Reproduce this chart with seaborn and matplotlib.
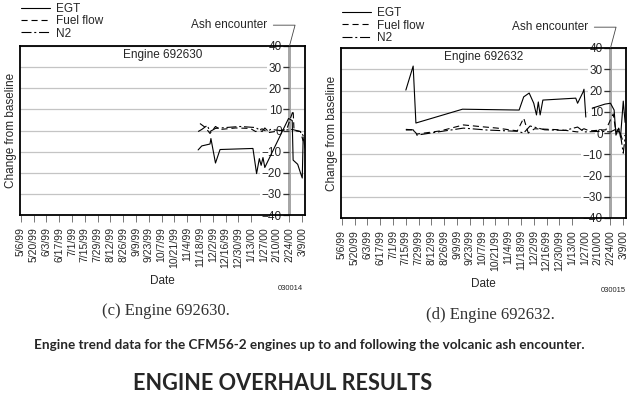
import pandas as pd
import matplotlib
matplotlib.use("Agg")
import matplotlib.pyplot as plt
import seaborn as sns

sns.set_style("white")
plt.rcParams["font.family"] = ["Liberation Sans", "DejaVu Sans"]

FMT = "%m/%d/%y"

tick_labels = ["5/6/99", "5/20/99", "6/3/99", "6/17/99", "7/1/99", "7/15/99", "7/29/99",
               "8/12/99", "8/26/99", "9/9/99", "9/23/99", "10/7/99", "10/21/99", "11/4/99",
               "11/18/99", "12/2/99", "12/16/99", "12/30/99", "1/13/00", "1/27/00",
               "2/10/00", "2/24/00", "3/9/00"]
y_ticks = [-40, -30, -20, -10, 0, 10, 20, 30, 40]
x_range = ["5/5/99", "3/12/00"]
ash_date = "2/24/00"
series_names = ["EGT", "Fuel flow", "N2"]

# Engine 692630
egt_630_dates = ["11/16/99", "11/20/99", "11/29/99", "11/30/99", "12/5/99", "12/10/99", "1/15/00",
                 "1/19/00", "1/22/00", "1/24/00", "1/26/00", "1/28/00", "2/23/00", "2/27/00",
                 "2/28/00", "3/4/00", "3/7/00", "3/9/00", "3/10/00"]
egt_630 = [-9.2, -7.3, -6.4, -3.8, -15.4, -9.0, -8.5, -20.4, -13.3, -16.5, -12.8, -17.5, 5.7, 4.7,
           -14, -16, -20, -22.5, -3]
fuel_630_dates = ["11/18/99", "11/24/99", "11/29/99", "12/5/99", "12/10/99", "12/27/99", "1/12/00",
                  "1/18/00", "1/25/00", "2/1/00", "2/8/00", "2/21/00", "2/28/00", "2/29/00",
                  "3/7/00", "3/10/00"]
fuel_630 = [3.3, 1.4, -1.4, 1.9, 0.5, 1.2, 1.0, -0.5, 0.8, -1.0, -0.5, 0.5, 9.5, 0.0, -0.5, -5]
n2_630_dates = ["11/16/99", "11/20/99", "11/26/99", "11/29/99", "12/5/99", "12/16/99", "1/1/00",
                "1/18/00", "1/25/00", "1/28/00", "2/1/00", "2/3/00", "2/14/00", "2/27/00",
                "3/7/00", "3/10/00", "3/12/00"]
n2_630 = [-0.5, 0.5, 2.4, -0.5, 1.0, 1.4, 1.9, 1.4, -0.5, 1.2, -0.5, 0.5, 0.0, 0.5, -0.5, -2.4, -8.5]

# Engine 692632 (EGT trace has a break around the end of January)
egt_632_dates = ["7/15/99", "7/23/99", "7/26/99", "9/15/99", "11/16/99", "11/21/99", "11/27/99",
                 "12/2/99", "12/5/99", "12/7/99", "12/9/99", "12/12/99", "1/17/00", "1/19/00",
                 "1/25/00", "1/26/00", "1/28/00"]
egt_632 = [20.2, 31.5, 4.7, 11.2, 10.8, 17, 18.8, 14, 8.5, 14.6, 8.5, 15.5, 16.4, 14, 19.3, 20.6,
           7.5]
egt_632b_dates = ["2/4/00", "2/10/00", "2/18/00", "2/24/00", "2/28/00", "3/1/00", "3/4/00",
                  "3/6/00", "3/9/00", "3/11/00"]
egt_632b = [11.7, 12.5, 13.6, 14, 10.8, -1, 2.3, -2, 15, 5]
fuel_632_dates = ["7/15/99", "7/23/99", "7/27/99", "8/22/99", "9/16/99", "10/5/99", "10/23/99",
                  "11/14/99", "11/21/99", "11/26/99", "12/3/99", "1/1/00", "1/19/00", "1/26/00",
                  "2/1/00", "2/19/00", "2/27/00", "3/1/00", "3/4/00", "3/8/00", "3/11/00"]
fuel_632 = [1.7, 1.5, -0.5, 1.0, 3.8, 3.0, 2.3, 1.0, 7.0, 0.0, 2.0, 1.5, 0.5, 2.0, 1.0, 1.5, 9.0,
            0.5, 2.0, -3, -1]
n2_632_dates = ["7/15/99", "7/23/99", "7/27/99", "9/16/99", "10/12/99", "11/14/99", "11/21/99",
                "11/28/99", "12/14/99", "1/5/00", "1/19/00", "1/26/00", "2/14/00", "2/24/00",
                "3/2/00", "3/6/00", "3/9/00", "3/11/00"]
n2_632 = [1.4, 1.5, -1.0, 2.3, 1.4, 0.8, 0.0, 3.3, 1.5, 1.2, 2.8, 0.5, 0.8, 0.5, 2.0, -1.0, -9.5, -2]

styles = {"EGT": "-", "Fuel flow": (0, (5.5, 3.5)), "N2": (0, (9, 2.5, 1.8, 2.5))}


def to_dt(lst):
    return pd.to_datetime(lst, format=FMT)


fig = plt.figure(figsize=(6.4, 4.05), dpi=100)
W, H = 640, 405


def axes_px(x0, y0, x1, y1):
    return fig.add_axes([x0 / W, 1 - y1 / H, (x1 - x0) / W, (y1 - y0) / H])


ax1 = axes_px(20, 46, 305, 215)
ax2 = axes_px(341, 48, 626, 218)

panels = [
    (ax1, [("EGT", egt_630_dates, egt_630), ("Fuel flow", fuel_630_dates, fuel_630),
           ("N2", n2_630_dates, n2_630)],
     "Engine 692630", 1.255),
    (ax2, [("EGT", egt_632_dates, egt_632), ("EGT", egt_632b_dates, egt_632b),
           ("Fuel flow", fuel_632_dates, fuel_632), ("N2", n2_632_dates, n2_632)],
     "Engine 692632", 1.24),
]

ash = pd.Timestamp(to_dt([ash_date])[0])
half = pd.Timedelta(days=2)

for ax, series, name, leg_y in panels:
    ax.axvspan(ash - half, ash + half, color="#a6a6a6", lw=0, zorder=1.5)
    used = set()
    for sname, d, v in series:
        lab = sname if sname not in used else None
        used.add(sname)
        sns.lineplot(x=to_dt(d), y=v, ax=ax, color="black", lw=0.8, ls=styles[sname],
                     label=lab, estimator=None, zorder=2.5)
    ax.set_xlim(to_dt(x_range)[0], to_dt(x_range)[1])
    ax.set_ylim(-40, 40)
    ax.set_yticks(y_ticks)
    ax.tick_params(axis="y", left=False, labelleft=False)
    ax.grid(axis="y", color="#c4c4c4", lw=0.9)
    ax.grid(axis="x", visible=False)
    ax.set_axisbelow(True)
    ax.set_xticks(to_dt(tick_labels))
    ax.set_xticklabels(tick_labels, rotation=90, fontsize=7.5, va="top")
    ax.tick_params(axis="x", bottom=True, length=5, width=0.7, color="#777777", pad=3.5)
    for s in ax.spines.values():
        s.set_color("black")
        s.set_linewidth(1.3)
    ax.set_xlabel("Date", fontsize=8.5, labelpad=5.5)
    ax.set_ylabel("Change from baseline", fontsize=8.5, labelpad=2)

    # y axis placed at the ash encounter date
    sec = ax.secondary_yaxis(matplotlib.dates.date2num(ash), transform=ax.transData)
    sec.set_alignment("left")
    sec.set_yticks(y_ticks)
    sec.tick_params(axis="y", length=4.5, width=0.9, color="#333333", pad=1, labelsize=8.5)
    for s in sec.spines.values():
        s.set_visible(False)
    for lab in sec.get_yticklabels():
        lab.set_bbox(dict(facecolor="white", edgecolor="none", pad=1.2))
    sec.set_zorder(1.8)

    ax.text(0.5, 0.985, name, transform=ax.transAxes, ha="center", va="top", fontsize=8.5)
    ax.annotate("Ash encounter", xy=(ash, 40), xycoords="data", xytext=(-16, 15),
                textcoords="offset points", ha="right", va="center", fontsize=8.5,
                annotation_clip=False,
                arrowprops=dict(arrowstyle="-", lw=0.6, color="#444444", shrinkA=2, shrinkB=0,
                                connectionstyle="angle,angleA=0,angleB=75,rad=0"))
    ax.legend(loc="upper left", bbox_to_anchor=(0.005, leg_y), frameon=False, fontsize=8.5,
              handlelength=2.4, handletextpad=0.55, labelspacing=0.03, borderpad=0,
              borderaxespad=0)

fig.text(290 / W, 1 - 289 / H, "030014", fontsize=5.5, ha="center", va="center")
fig.text(613 / W, 1 - 291 / H, "030015", fontsize=5.5, ha="center", va="center")
fig.text(166 / W, 1 - 311 / H, "(c) Engine 692630.", family="Liberation Serif", fontsize=12,
         color="#333333", ha="center", va="center")
fig.text(490 / W, 1 - 315 / H, "(d) Engine 692632.", family="Liberation Serif", fontsize=12,
         color="#333333", ha="center", va="center")
fig.text(309 / W, 1 - 345 / H,
         "Engine trend data for the CFM56-2 engines up to and following the volcanic ash encounter.",
         family="Lato", weight="bold", fontsize=9.7, ha="center", va="center")
fig.text(283 / W, 1 - 383 / H, "ENGINE OVERHAUL RESULTS", family="Lato", weight="bold",
         fontsize=15.6, ha="center", va="center")

fig.savefig("out.png", dpi=100)
